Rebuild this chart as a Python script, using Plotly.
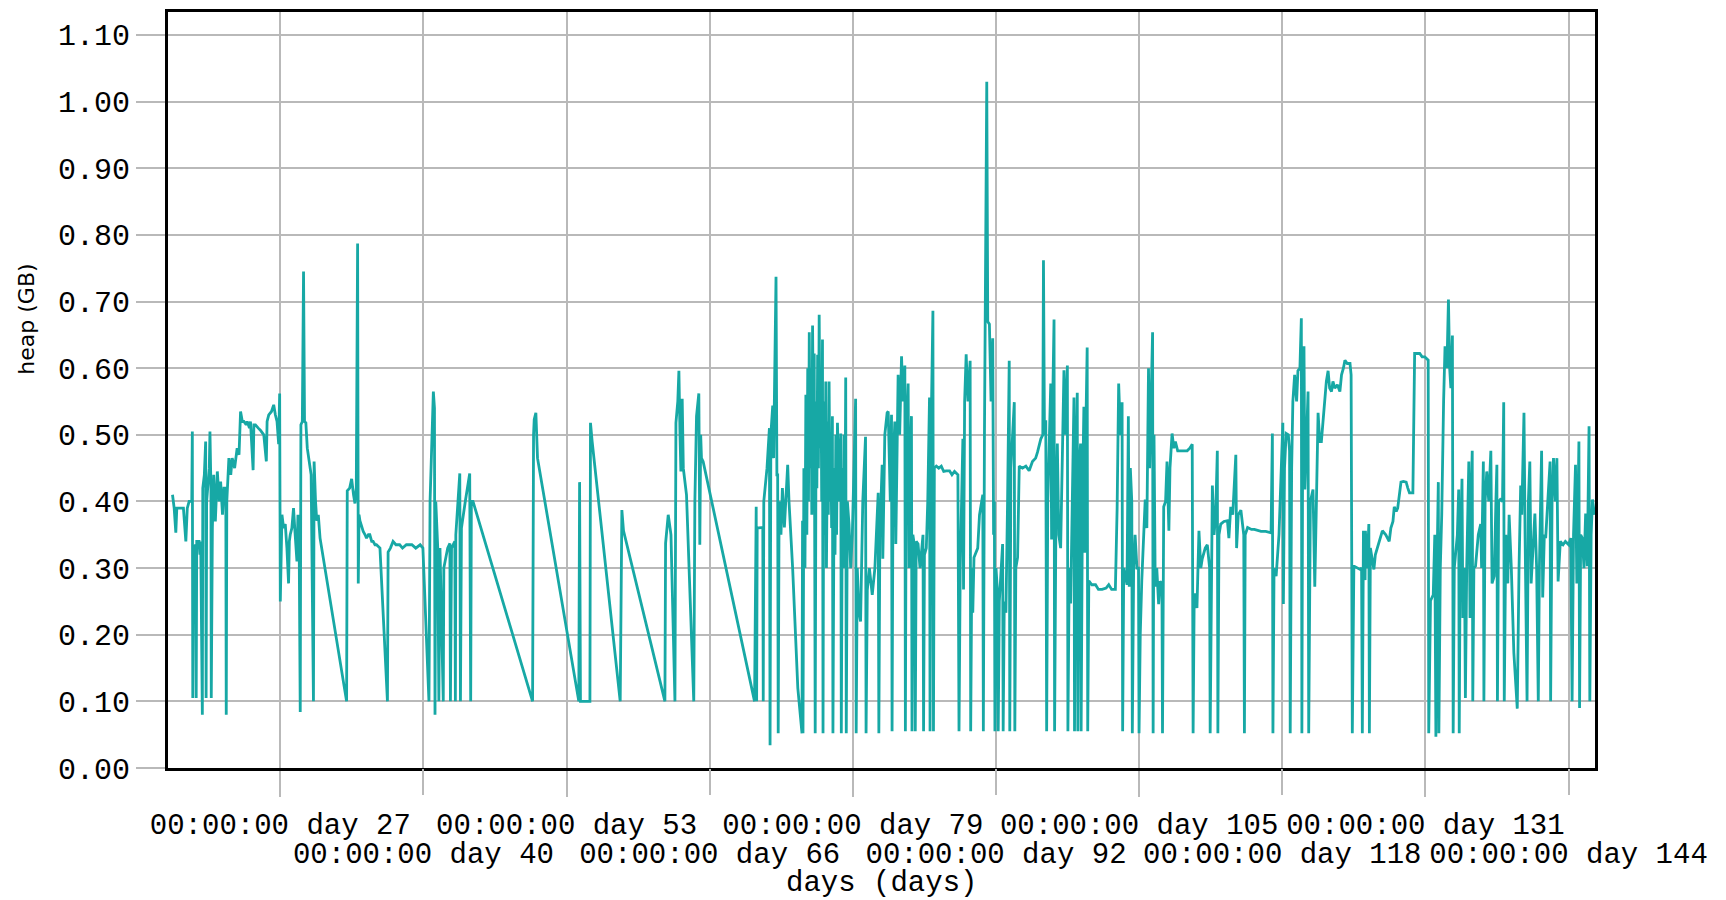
import plotly.graph_objects as go

# ---- data (day, heap GB), one list per period ----
seg_a = [(17.21, 0.41), (17.36, 0.39), (17.51, 0.353), (17.60, 0.39), (17.96, 0.39), (18.20, 0.39), (18.42, 0.34),
         (18.55, 0.39), (18.72, 0.40), (18.96, 0.40), (19.01, 0.505), (19.05, 0.105), (19.12, 0.33), (19.32, 0.335),
         (19.36, 0.105), (19.41, 0.34), (19.62, 0.34), (19.70, 0.32), (19.77, 0.34), (19.92, 0.08), (19.96, 0.42),
         (20.10, 0.44), (20.22, 0.49), (20.26, 0.105), (20.31, 0.40), (20.55, 0.45), (20.61, 0.505), (20.70, 0.42),
         (20.73, 0.105), (20.83, 0.36), (20.95, 0.44), (21.10, 0.37), (21.28, 0.445), (21.45, 0.40), (21.58, 0.43),
         (21.75, 0.38), (21.88, 0.42), (22.05, 0.42), (22.09, 0.08), (22.14, 0.40), (22.33, 0.465), (22.50, 0.44),
         (22.63, 0.465), (22.85, 0.45), (23.08, 0.48), (23.25, 0.47), (23.39, 0.535), (23.55, 0.52), (23.69, 0.52),
         (23.90, 0.515), (23.99, 0.52), (24.20, 0.51), (24.29, 0.52), (24.53, 0.447), (24.60, 0.515), (24.74, 0.515),
         (25.00, 0.51), (25.19, 0.507), (25.50, 0.50), (25.73, 0.46), (25.80, 0.52), (25.95, 0.53), (26.20, 0.535),
         (26.40, 0.545), (26.55, 0.53), (26.70, 0.52), (26.85, 0.486), (26.94, 0.562), (27.00, 0.25)]

seg_b = [(27.08, 0.37), (27.15, 0.38), (27.30, 0.36), (27.45, 0.366), (27.60, 0.33), (27.75, 0.277), (27.82, 0.34),
         (27.90, 0.35), (28.05, 0.36), (28.20, 0.39), (28.35, 0.35), (28.51, 0.31), (28.60, 0.38), (28.70, 0.37),
         (28.81, 0.084), (28.87, 0.515), (29.00, 0.52), (29.11, 0.745), (29.20, 0.52), (29.32, 0.518), (29.45, 0.48),
         (29.56, 0.465), (29.80, 0.44), (30.01, 0.10), (30.07, 0.46), (30.20, 0.40), (30.31, 0.371), (30.45, 0.38),
         (30.61, 0.345), (33.02, 0.10), (33.08, 0.416), (33.30, 0.42), (33.48, 0.434), (33.65, 0.41), (33.78, 0.397),
         (33.90, 0.42), (34.02, 0.787), (34.08, 0.277), (34.15, 0.38), (34.23, 0.371), (34.40, 0.36), (34.53, 0.355),
         (34.70, 0.35), (34.83, 0.345), (35.00, 0.35), (35.13, 0.35), (35.30, 0.34), (35.43, 0.34), (35.60, 0.335),
         (35.73, 0.335), (36.05, 0.33), (36.73, 0.10), (36.79, 0.324), (37.00, 0.33), (37.24, 0.34), (37.50, 0.335),
         (37.84, 0.335), (38.10, 0.33), (38.45, 0.335), (38.95, 0.335), (39.30, 0.33), (39.70, 0.335)]

seg_c = [(39.95, 0.33), (40.50, 0.10), (40.60, 0.40), (40.80, 0.52), (40.90, 0.565), (41.00, 0.54), (41.05, 0.08),
         (41.12, 0.40), (41.30, 0.33), (41.40, 0.10), (41.50, 0.33), (41.80, 0.10), (41.85, 0.30), (42.20, 0.33),
         (42.40, 0.337), (42.45, 0.10), (42.55, 0.33), (42.85, 0.34), (42.90, 0.10), (42.94, 0.35), (43.15, 0.40),
         (43.30, 0.442), (43.36, 0.10), (43.45, 0.36), (43.80, 0.40), (44.20, 0.442), (44.29, 0.10), (44.35, 0.40),
         (44.50, 0.40), (49.91, 0.10), (50.00, 0.50), (50.06, 0.523), (50.21, 0.533), (50.30, 0.47), (50.36, 0.465),
         (54.11, 0.10), (54.18, 0.429), (54.26, 0.10), (55.12, 0.10), (55.17, 0.518), (55.32, 0.49), (57.87, 0.10),
         (58.02, 0.387), (58.17, 0.356)]

seg_d = [(61.93, 0.10), (61.99, 0.337), (62.23, 0.38), (62.40, 0.36), (62.48, 0.35), (62.84, 0.10), (62.93, 0.518),
         (63.10, 0.55), (63.20, 0.596), (63.30, 0.50), (63.38, 0.445), (63.45, 0.52), (63.50, 0.554), (63.60, 0.45),
         (63.89, 0.41), (64.55, 0.10), (64.65, 0.40), (64.80, 0.528), (65.01, 0.562), (65.10, 0.335), (65.18, 0.50),
         (65.25, 0.465), (65.40, 0.46), (70.07, 0.10), (70.22, 0.392), (70.26, 0.10), (70.31, 0.36), (70.82, 0.361),
         (70.86, 0.10), (70.91, 0.40), (71.20, 0.45), (71.42, 0.51), (71.48, 0.034), (71.55, 0.50), (71.72, 0.544),
         (71.80, 0.465), (72.02, 0.737), (72.10, 0.44), (72.17, 0.44), (72.22, 0.052), (72.30, 0.40), (72.47, 0.35),
         (72.60, 0.42), (72.78, 0.361), (73.08, 0.455), (73.20, 0.40), (73.53, 0.30), (74.00, 0.12), (74.38, 0.052),
         (74.43, 0.371), (74.47, 0.052), (74.55, 0.45), (74.65, 0.30), (74.73, 0.56), (74.82, 0.35), (74.90, 0.60),
         (74.97, 0.40), (75.04, 0.654), (75.12, 0.45), (75.20, 0.60), (75.27, 0.38), (75.34, 0.664), (75.42, 0.50),
         (75.49, 0.622), (75.58, 0.052), (75.66, 0.55), (75.73, 0.42), (75.80, 0.62), (75.87, 0.45), (75.94, 0.68),
         (76.02, 0.48), (76.10, 0.60), (76.17, 0.40), (76.24, 0.643), (76.29, 0.052), (76.36, 0.55), (76.45, 0.35),
         (76.54, 0.58), (76.60, 0.30), (76.70, 0.52), (76.77, 0.38), (76.84, 0.58), (76.92, 0.40), (77.00, 0.50),
         (77.07, 0.36), (77.14, 0.528), (77.19, 0.052), (77.30, 0.45), (77.38, 0.32), (77.45, 0.50), (77.52, 0.35),
         (77.60, 0.518), (77.75, 0.40), (77.90, 0.502), (77.95, 0.052), (78.05, 0.45), (78.12, 0.30), (78.20, 0.50),
         (78.28, 0.35), (78.35, 0.586), (78.40, 0.052), (78.50, 0.40), (78.65, 0.366), (78.80, 0.30), (78.95, 0.35),
         (79.10, 0.45), (79.25, 0.554), (79.30, 0.052), (79.40, 0.30), (79.55, 0.235), (79.70, 0.22), (79.90, 0.40),
         (80.15, 0.497), (80.20, 0.052), (80.31, 0.267), (80.50, 0.30), (80.76, 0.26), (81.00, 0.30), (81.30, 0.413),
         (81.36, 0.052), (81.45, 0.35), (81.66, 0.455), (81.72, 0.314), (81.90, 0.50), (82.11, 0.533)]

seg_e = [(82.21, 0.535), (82.40, 0.40), (82.51, 0.53), (82.56, 0.055), (82.65, 0.45), (82.81, 0.52), (82.90, 0.336),
         (83.00, 0.50), (83.11, 0.59), (83.25, 0.50), (83.42, 0.618), (83.55, 0.55), (83.72, 0.604), (83.77, 0.055),
         (83.85, 0.50), (84.02, 0.577), (84.10, 0.30), (84.20, 0.45), (84.32, 0.528), (84.37, 0.055), (84.45, 0.35),
         (84.62, 0.33), (84.67, 0.055), (84.75, 0.34), (84.92, 0.336), (85.10, 0.30), (85.37, 0.35), (85.42, 0.055),
         (85.50, 0.32), (85.67, 0.33), (85.80, 0.40), (85.96, 0.556), (86.01, 0.055), (86.10, 0.50), (86.27, 0.686),
         (86.32, 0.055), (86.40, 0.45), (86.58, 0.453), (86.80, 0.45), (87.03, 0.453), (87.25, 0.445), (87.48, 0.446),
         (87.78, 0.446), (88.00, 0.44), (88.23, 0.445), (88.54, 0.44), (88.64, 0.055), (88.75, 0.30), (88.99, 0.494),
         (89.05, 0.268), (89.15, 0.55), (89.29, 0.621), (89.45, 0.55), (89.65, 0.611), (89.70, 0.055), (89.80, 0.30),
         (89.89, 0.233), (90.00, 0.316), (90.34, 0.33), (90.50, 0.38), (90.80, 0.41), (90.85, 0.055), (90.95, 0.50),
         (91.16, 1.03), (91.25, 0.67), (91.40, 0.666), (91.55, 0.55), (91.70, 0.645), (91.78, 0.35), (91.85, 0.40),
         (91.90, 0.055), (92.00, 0.30), (92.15, 0.26), (92.20, 0.055), (92.30, 0.25), (92.60, 0.336), (92.65, 0.055),
         (92.75, 0.25), (92.90, 0.233), (93.05, 0.40), (93.20, 0.611), (93.25, 0.055), (93.35, 0.45), (93.66, 0.549),
         (93.71, 0.055), (93.80, 0.30), (93.96, 0.316), (94.11, 0.453), (94.40, 0.45), (94.71, 0.453), (95.01, 0.446),
         (95.31, 0.46), (95.60, 0.465), (95.77, 0.474), (96.07, 0.494), (96.25, 0.50), (96.31, 0.762), (96.40, 0.50),
         (96.52, 0.522), (96.60, 0.055), (96.70, 0.40), (96.97, 0.577), (97.05, 0.343), (97.15, 0.55), (97.27, 0.673),
         (97.32, 0.055), (97.45, 0.40), (97.57, 0.487), (97.70, 0.35), (97.87, 0.33), (98.00, 0.45), (98.17, 0.597),
         (98.30, 0.50), (98.48, 0.604), (98.53, 0.055), (98.65, 0.30), (98.78, 0.247), (98.90, 0.40), (99.08, 0.556),
         (99.13, 0.055), (99.25, 0.45), (99.38, 0.563), (99.43, 0.055), (99.55, 0.45), (99.68, 0.487), (99.73, 0.055),
         (99.85, 0.40), (99.98, 0.542), (100.05, 0.323), (100.15, 0.50), (100.28, 0.631), (100.33, 0.055),
         (100.43, 0.281), (100.70, 0.275), (101.04, 0.275), (101.30, 0.268), (101.64, 0.268), (102.00, 0.27),
         (102.24, 0.275), (102.50, 0.268), (102.84, 0.268), (103.00, 0.39), (103.14, 0.577), (103.30, 0.50),
         (103.45, 0.549), (103.50, 0.055), (103.60, 0.30), (103.90, 0.275)]

seg_f = [(104.02, 0.528), (104.10, 0.272), (104.20, 0.45), (104.33, 0.40), (104.38, 0.052), (104.50, 0.30),
         (104.63, 0.35), (104.80, 0.30), (104.94, 0.30), (104.99, 0.052), (105.10, 0.20), (105.24, 0.282),
         (105.40, 0.35), (105.55, 0.403), (105.70, 0.36), (105.85, 0.60), (105.95, 0.45), (106.10, 0.60),
         (106.22, 0.654), (106.27, 0.052), (106.35, 0.50), (106.46, 0.272), (106.60, 0.30), (106.77, 0.246),
         (106.90, 0.28), (107.07, 0.277), (107.12, 0.052), (107.23, 0.392), (107.40, 0.40), (107.53, 0.46),
         (107.70, 0.356), (107.80, 0.45), (107.99, 0.502), (108.15, 0.48), (108.29, 0.49), (108.50, 0.476),
         (108.75, 0.476), (109.00, 0.476), (109.36, 0.476), (109.60, 0.48), (109.82, 0.486), (109.90, 0.052),
         (110.00, 0.26), (110.12, 0.26), (110.25, 0.24), (110.43, 0.356), (110.60, 0.30), (110.73, 0.314),
         (111.00, 0.33), (111.19, 0.335), (111.40, 0.30), (111.45, 0.052), (111.55, 0.267), (111.65, 0.424),
         (111.80, 0.35), (111.95, 0.38), (112.10, 0.476), (112.15, 0.052), (112.25, 0.35), (112.41, 0.366),
         (112.70, 0.37), (113.02, 0.371), (113.15, 0.345), (113.32, 0.392), (113.50, 0.38), (113.78, 0.47),
         (113.85, 0.33), (114.00, 0.38), (114.24, 0.387), (114.50, 0.35), (114.56, 0.052), (114.63, 0.35),
         (114.85, 0.361), (115.20, 0.358), (115.46, 0.358), (116.07, 0.355), (116.50, 0.355), (116.98, 0.353),
         (117.10, 0.502), (117.15, 0.052), (117.25, 0.30), (117.44, 0.288), (117.70, 0.35), (118.05, 0.518),
         (118.10, 0.246), (118.20, 0.45), (118.35, 0.502), (118.55, 0.50), (118.66, 0.476), (118.72, 0.052),
         (118.85, 0.45), (118.96, 0.55), (119.12, 0.59), (119.30, 0.55), (119.42, 0.596), (119.60, 0.60),
         (119.73, 0.675), (119.78, 0.052), (119.85, 0.50), (119.97, 0.633), (120.05, 0.418), (120.20, 0.50),
         (120.34, 0.565), (120.40, 0.052), (120.55, 0.40), (120.79, 0.418), (120.95, 0.272), (121.10, 0.40),
         (121.25, 0.533), (121.40, 0.49), (121.55, 0.49), (121.70, 0.52), (121.86, 0.554), (122.00, 0.58),
         (122.16, 0.596), (122.30, 0.57), (122.47, 0.565), (122.60, 0.58), (122.77, 0.57), (123.00, 0.575),
         (123.23, 0.565), (123.38, 0.59), (123.55, 0.60), (123.69, 0.612), (123.90, 0.607), (124.15, 0.607),
         (124.25, 0.59), (124.36, 0.052), (124.50, 0.303), (124.80, 0.30), (125.06, 0.298), (125.20, 0.30),
         (125.27, 0.052), (125.37, 0.356), (125.52, 0.282)]

seg_g = [(125.55, 0.356), (125.70, 0.30), (125.86, 0.366), (125.91, 0.052), (126.00, 0.33), (126.32, 0.298),
         (126.45, 0.32), (126.63, 0.33), (126.85, 0.34), (127.09, 0.356), (127.40, 0.35), (127.71, 0.34),
         (127.86, 0.36), (128.05, 0.37), (128.17, 0.392), (128.35, 0.385), (128.48, 0.39), (128.78, 0.429),
         (129.00, 0.43), (129.25, 0.429), (129.40, 0.42), (129.55, 0.413), (129.86, 0.413), (129.95, 0.60),
         (130.02, 0.622), (130.48, 0.622), (130.70, 0.617), (130.94, 0.617), (131.25, 0.612), (131.30, 0.052),
         (131.40, 0.25), (131.46, 0.251), (131.71, 0.26), (131.85, 0.35), (131.95, 0.047), (132.05, 0.30),
         (132.17, 0.429), (132.22, 0.052), (132.35, 0.30), (132.48, 0.38), (132.65, 0.55), (132.78, 0.633),
         (132.95, 0.60), (133.09, 0.703), (133.20, 0.60), (133.31, 0.57), (133.45, 0.649), (133.52, 0.052),
         (133.62, 0.30), (133.71, 0.319), (133.90, 0.35), (134.02, 0.418), (134.07, 0.052), (134.15, 0.30),
         (134.32, 0.434), (134.40, 0.225), (134.55, 0.30), (134.63, 0.105), (134.75, 0.30), (134.94, 0.46),
         (135.05, 0.225), (135.15, 0.40), (135.25, 0.476), (135.30, 0.10), (135.40, 0.30), (135.55, 0.303),
         (135.80, 0.35), (136.02, 0.366), (136.10, 0.30), (136.26, 0.46), (136.31, 0.10), (136.42, 0.40),
         (136.57, 0.445), (136.75, 0.40), (136.94, 0.476), (137.05, 0.277), (137.25, 0.288), (137.40, 0.40),
         (137.49, 0.455), (137.54, 0.10), (137.65, 0.40), (137.80, 0.403), (138.00, 0.40), (138.11, 0.549),
         (138.16, 0.10), (138.30, 0.35), (138.48, 0.277), (138.60, 0.38), (138.80, 0.30), (139.03, 0.173),
         (139.20, 0.12), (139.34, 0.089), (139.50, 0.30), (139.65, 0.424), (139.75, 0.38), (139.95, 0.533),
         (140.05, 0.35), (140.23, 0.10), (140.35, 0.40), (140.48, 0.46), (140.60, 0.277), (140.80, 0.35),
         (140.94, 0.382), (141.10, 0.30), (141.25, 0.10), (141.35, 0.30), (141.55, 0.476), (141.65, 0.256),
         (141.80, 0.35), (141.92, 0.345), (142.10, 0.40), (142.32, 0.46), (142.37, 0.10), (142.50, 0.40),
         (142.63, 0.465), (142.80, 0.40), (142.94, 0.465), (143.05, 0.28), (143.25, 0.34), (143.50, 0.335),
         (143.71, 0.34), (144.02, 0.335), (144.20, 0.345), (144.32, 0.10), (144.45, 0.35), (144.63, 0.455),
         (144.75, 0.277), (144.94, 0.49), (145.00, 0.09), (145.10, 0.35), (145.25, 0.345), (145.40, 0.30),
         (145.55, 0.382), (145.70, 0.303), (145.86, 0.513), (145.93, 0.10), (146.05, 0.35), (146.17, 0.403),
         (146.35, 0.38)]

row1_ticks = [27, 53, 79, 105, 131]
row1_labels = ["00:00:00 day 27", "00:00:00 day 53", "00:00:00 day 79", "00:00:00 day 105", "00:00:00 day 131"]
row2_ticks = [40, 66, 92, 118, 144]
row2_labels = ["00:00:00 day 40", "00:00:00 day 66", "00:00:00 day 92", "00:00:00 day 118", "00:00:00 day 144"]

x_title = "days (days)"
y_title = "heap (GB)"

segments = [seg_a, seg_b, seg_c, seg_d, seg_e, seg_f, seg_g]
days = [p[0] for seg in segments for p in seg]
heap = [p[1] for seg in segments for p in seg]

FONT = "Liberation Mono"
GRID = "#b9b9b9"
X_RANGE = [16.8, 146.4]

fig = go.Figure()
fig.add_trace(go.Scatter(x=days, y=heap, mode="lines",
                         line=dict(color="#17a8a5", width=2.8), showlegend=False))
# empty carrier so the second (staggered-label) x axis gets drawn
fig.add_trace(go.Scatter(x=X_RANGE, y=[None, None], xaxis="x2", yaxis="y", mode="lines",
                         showlegend=False, hoverinfo="skip"))

common_x = dict(range=X_RANGE, showgrid=True, gridcolor=GRID, gridwidth=2,
                ticks="outside", ticklen=26, tickwidth=2, tickcolor=GRID,
                tickfont=dict(family=FONT, size=29, color="black"),
                zeroline=False, tickmode="array")

fig.update_layout(
    width=1726, height=900,
    margin=dict(l=168, r=131, t=9, b=132),
    paper_bgcolor="white", plot_bgcolor="white",
    hovermode=False,
    xaxis=dict(**common_x, tickvals=row1_ticks, ticktext=row1_labels,
               showline=True, linecolor="black", linewidth=3, mirror=True,
               ticklabelstandoff=2),
    xaxis2=dict(**common_x, tickvals=row2_ticks, ticktext=row2_labels,
                overlaying="x", anchor="y", side="bottom", showline=False,
                ticklabelstandoff=33),
    yaxis=dict(range=[0, 1.1345], dtick=0.1, tick0=0, tickformat=".2f",
               showgrid=True, gridcolor=GRID, gridwidth=2,
               ticks="outside", ticklen=29, tickwidth=2, tickcolor=GRID,
               tickfont=dict(family=FONT, size=30, color="black"),
               showline=True, linecolor="black", linewidth=3, mirror=True,
               zeroline=False),
    annotations=[
        dict(text=x_title, xref="paper", yref="paper", x=0.5, y=-0.153,
             xanchor="center", yanchor="middle", showarrow=False,
             font=dict(family=FONT, size=29, color="black")),
        dict(text=y_title, xref="paper", yref="paper", x=-0.099, y=0.594,
             xanchor="center", yanchor="middle", showarrow=False, textangle=-90,
             font=dict(family="DejaVu Sans", size=22, color="black")),
    ],
)

# remove the page's default 8px body margin so the 1726x900 figure fills the window exactly
fig.write_html("out.html",
               config={"displayModeBar": False, "staticPlot": True},
               post_script="document.body.style.margin='0';document.body.style.overflow='hidden';")
